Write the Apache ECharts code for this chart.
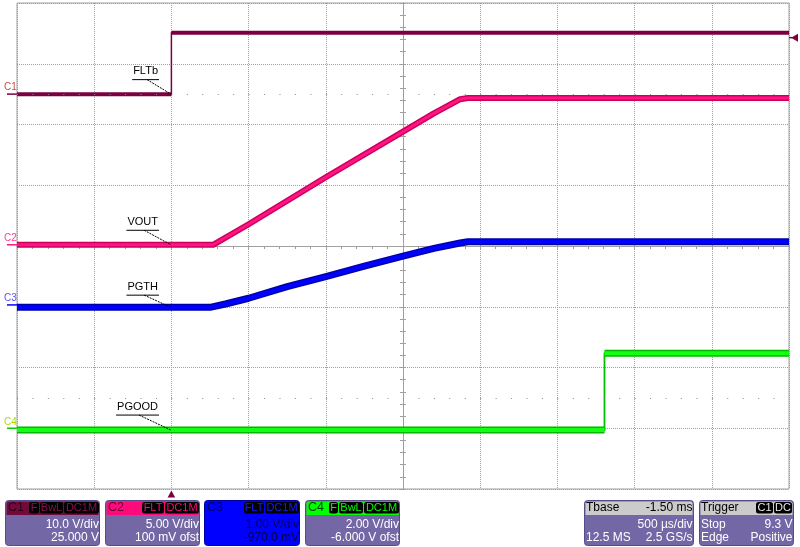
<!DOCTYPE html>
<html><head><meta charset="utf-8">
<script src="https://cdn.jsdelivr.net/npm/echarts@6/dist/echarts.min.js"></script>
<style>html,body{margin:0;padding:0;background:#fff}#c{width:800px;height:547px}</style>
</head><body><div id="c"></div><script>
// ---------- data (time in ms relative to trigger, levels in volts) ----------
const fltbT  = [-1.0, 0, 0, 4.0];
const fltbV  = [0, 0, 10.1, 10.1];
const voutT  = [-1.0, 0.27, 0.5, 1.0, 1.5, 1.7, 1.87, 1.92, 4.0];
const voutV  = [0, 0, 1.69, 5.56, 9.31, 10.82, 11.98, 12.08, 12.08];
const pgthT  = [-1.0, 0.25, 0.35, 0.5, 0.75, 1.0, 1.25, 1.5, 1.7, 1.87, 1.92, 4.0];
const pgthV  = [-0.04, -0.04, 0.015, 0.11, 0.30, 0.465, 0.64, 0.805, 0.93, 1.02, 1.04, 1.04];
const pgoodT = [-1.0, 2.805, 2.805, 4.0];
const pgoodV = [-0.06, -0.06, 2.47, 2.47];

const chNames   = ['C1', 'C2', 'C3', 'C4'];
const vPerDiv   = [10, 5, 1, 2];
const offsetV   = [25, 0.1, -0.97, -6];
const traceLabels = ['FLTb', 'VOUT', 'PGTH', 'PGOOD'];
const vdivText  = ['10.0 V/div', '5.00 V/div', '1.00 V/div', '2.00 V/div'];
const ofstText  = ['25.000 V', '100 mV ofst', '-970.0 mV', '-6.000 V ofst'];
const badgeText = [['F', 'BwL', 'DC1M'], ['FLT', 'DC1M'], ['FLT', 'DC1M'], ['F', 'BwL', 'DC1M']];
const tbaseText = ['Tbase', '-1.50 ms', '500 µs/div', '12.5 MS', '2.5 GS/s'];
const trigText  = ['Trigger', 'C1', 'DC', 'Stop', '9.3 V', 'Edge', 'Positive'];
const trigLevelV = 9.3;
const trigTimeMs = 0;
const xMin = -1.0, xMax = 4.0, xStep = 0.5;
const yMin = -4, yMax = 4, yStep = 1;

// ---------- helpers ----------
const FONT = '"Liberation Sans", Arial, sans-serif';
const gnd = ch => offsetV[ch] / vPerDiv[ch];
const toDiv = (ts, vs, ch) => ts.map((t, i) => [t, vs[i] / vPerDiv[ch] + gnd(ch)]);
const broken = pts => { const o = []; pts.forEach((p, i) => { if (i > 0 && p[0] === pts[i-1][0]) o.push([p[0], '-']); o.push(p); }); return o; };

const traces = [toDiv(fltbT, fltbV, 0), toDiv(voutT, voutV, 1), toDiv(pgthT, pgthV, 2), toDiv(pgoodT, pgoodV, 3)];

function ln(data, color, width, z) {
  return { type: 'line', data, xAxisIndex: 0, yAxisIndex: 0, showSymbol: false, symbol: 'none', silent: true,
    animation: false, z, lineStyle: { color, width, cap: 'butt', join: 'round' } };
}

const gridCol = '#a0a0a0';
function xAx(inside, split) {
  return { type: 'value', min: xMin, max: xMax, interval: xStep, position: inside ? 'top' : 'bottom',
    axisLine: { show: true, onZero: true, lineStyle: { color: gridCol, width: 1 } },
    axisTick: { show: true, inside, length: 3, lineStyle: { color: gridCol } },
    minorTick: { show: true, splitNumber: 5, length: 3, lineStyle: { color: gridCol } },
    axisLabel: { show: false },
    splitLine: { show: split, lineStyle: { color: gridCol, type: [1, 1], width: 1 } } };
}
function yAx(inside, split) {
  return { type: 'value', min: yMin, max: yMax, interval: yStep, position: 'left', offset: -386,
    axisLine: { show: true, onZero: false, lineStyle: { color: gridCol, width: 1 } },
    axisTick: { show: true, inside, length: 3, lineStyle: { color: gridCol } },
    minorTick: { show: true, splitNumber: 5, length: 3, lineStyle: { color: gridCol } },
    axisLabel: { show: false },
    splitLine: { show: split, lineStyle: { color: gridCol, type: [1, 1], width: 1 } } };
}

const chart = echarts.init(document.getElementById('c'), null, { renderer: 'canvas', width: 800, height: 547 });
chart.setOption({
  backgroundColor: '#ffffff',
  animation: false,
  grid: { left: 17, top: 3, width: 772, height: 486, show: true, borderColor: '#a0a0a0', borderWidth: 1, outerBoundsMode: 'none', containLabel: false },
  xAxis: [xAx(false, true), xAx(true, false)],
  yAxis: [yAx(false, true), yAx(true, false)],
  series: [
    Object.assign(ln(traces[0], 'rgba(0,0,0,0)', 1, 1), { markLine: { silent: true, symbol: 'none', animation: false,
      label: { show: false }, lineStyle: { color: '#8a8a8a', type: [1, 14.44], width: 1 }, data: [{ yAxis: 2.5 }, { yAxis: -2.5 }] } }),
    ln(broken(traces[0]), '#7a0040', 4, 3),
    ln(traces[0], '#7a0040', 1.5, 3),
    ln(traces[1], '#cc005c', 6, 4),
    ln(traces[1], '#ff1482', 3, 5),
    ln(traces[2], '#0000a8', 7, 4),
    ln(traces[2], '#0000ff', 4, 5),
    ln(broken(traces[3]), '#00b800', 7, 4),
    ln(broken(traces[3]), '#14ff14', 4, 5),
    ln(traces[3], '#00c000', 1.8, 4)
  ]
});

// ---------- overlay graphics ----------
const G = [];
const px = (t, d) => chart.convertToPixel({ gridIndex: 0 }, [t, d]);
function rect(x, y, w, h, fill, stroke, r, z) {
  G.push({ type: 'rect', silent: true, z: z || 100, shape: { x, y, width: w, height: h, r: r || 0 },
    style: { fill, stroke: stroke || null, lineWidth: stroke ? 1 : 0 } });
}
function text(x, y, str, color, align, size, z) {
  G.push({ type: 'text', silent: true, z: z || 103, x, y,
    style: { text: str, fill: color, align: align || 'left', verticalAlign: 'middle', fontSize: size || 12, fontFamily: FONT } });
}
function line(x1, y1, x2, y2, color, w, dash, z) {
  G.push({ type: 'line', silent: true, z: z || 101, shape: { x1, y1, x2, y2 },
    style: { stroke: color, lineWidth: w || 1, lineDash: dash || null } });
}
function poly(points, fill, z) { G.push({ type: 'polygon', silent: true, z: z || 101, shape: { points }, style: { fill } }); }

const ctx = document.createElement('canvas').getContext('2d');
function tw(str, size) { ctx.font = size + 'px ' + FONT; return ctx.measureText(str).width; }

// channel ground markers on the left
const markerTextCol = ['#cc4a4a', '#ff3d8f', '#5a50ff', '#a8dc00'];
const markerLineCol = ['#7a0040', '#ff1482', '#0000ff', '#00d000'];
for (let ch = 0; ch < 4; ch++) {
  const y = px(0, gnd(ch))[1];
  text(4, y - 6.5, chNames[ch], markerTextCol[ch], 'left', 10);
  line(7, y, 17, y, markerLineCol[ch], 1.5);
}

// trace name labels with leader lines to the trigger time
const rise = [15, 15, 12.7, 15.5];
const levelAtTrig = [traces[0][0][1], traces[1][0][1], traces[2][0][1], traces[3][0][1]];
for (let i = 0; i < 4; i++) {
  const [ax, ay] = px(trigTimeMs, levelAtTrig[i]);
  const w = tw(traceLabels[i], 11);
  const right = ax - 13.4, left = right - w;
  const uy = ay - rise[i];
  text(right, uy - 8, traceLabels[i], '#000', 'right', 11);
  line(left - 1, uy + 0.5, right + 1, uy + 0.5, '#000', 1);
  line((left + right) / 2 + 1.5, uy + 0.5, ax - 0.5, ay, '#000', 1, [2, 1]);
}

// trigger level marker (right) and trigger position marker (bottom)
const tl = px(xMax, trigLevelV / vPerDiv[0] + gnd(0));
line(789, tl[1], 792, tl[1], '#7a0040', 1.5);
poly([[791, tl[1]], [798, tl[1] - 4], [798, tl[1] + 4]], '#7a0040');
const tp = px(trigTimeMs, yMin);
poly([[tp[0], tp[1] + 1.5], [tp[0] - 3.8, tp[1] + 8.5], [tp[0] + 3.8, tp[1] + 8.5]], '#7a0040');

// bottom info panels
const PY = 500, PH = 46, HY = 507.5, L1 = 524.5, L2 = 538;
const lav = '#7367a5', lavBorder = '#554c88';
function panel(x1, x2, headFill, bodyFill, border) {
  rect(x1 + 0.5, PY + 0.5, x2 - x1 - 1, PH - 1, bodyFill, border, 3, 100);
  rect(x1 + 1.5, PY + 1.5, x2 - x1 - 3, 13.5, headFill, null, [2, 2, 0, 0], 101);
}
function badge(x1, x2, str, col) {
  rect(x1, 502, x2 - x1, 11.5, '#000', null, 2.5, 102);
  text((x1 + x2) / 2, 508, str, col, 'center', 11, 104);
}
const chPanelX = [[5, 100], [105, 200], [204, 300], [305, 400]];
const headCol = ['#720a3c', '#ff0a7c', '#0000ff', '#00ff00'];
const headTxt = ['#2e0016', '#6a0030', '#000066', '#004800'];
const bodyCol = [lav, lav, '#0000ff', lav];
const bodyTxt = ['#ffffff', '#ffffff', '#00004a', '#ffffff'];
const badgeCol = ['#8a1050', '#ff0a7c', '#1a1aff', '#00ff00'];
const badgeX = [[[29, 39], [40, 63], [64, 99]], [[142, 164], [165, 199]], [[244, 264], [265, 299]], [[329, 338], [339, 363], [364, 399]]];
for (let ch = 0; ch < 4; ch++) {
  const [x1, x2] = chPanelX[ch];
  panel(x1, x2, headCol[ch], bodyCol[ch], ch === 2 ? '#0000a0' : lavBorder);
  text(x1 + 3, HY, chNames[ch], headTxt[ch], 'left', 12.5);
  badgeText[ch].forEach((b, k) => badge(badgeX[ch][k][0], badgeX[ch][k][1], b, badgeCol[ch]));
  text(x2 - 1, L1, vdivText[ch], bodyTxt[ch], 'right', 12);
  text(x2 - 1, L2, ofstText[ch], bodyTxt[ch], 'right', 12);
}
// Tbase
panel(584, 694, '#cbcbcb', lav, lavBorder);
text(586, HY, tbaseText[0], '#000', 'left', 12);
text(692.5, HY, tbaseText[1], '#000', 'right', 12);
text(692.5, L1, tbaseText[2], '#fff', 'right', 12);
text(586, L2, tbaseText[3], '#fff', 'left', 12);
text(692.5, L2, tbaseText[4], '#fff', 'right', 12);
// Trigger
panel(699, 794, '#cbcbcb', lav, lavBorder);
text(701, HY, trigText[0], '#000', 'left', 12);
badge(756, 773, trigText[1], '#e8e8e8');
badge(774, 792, trigText[2], '#e8e8e8');
text(701, L1, trigText[3], '#fff', 'left', 12);
text(792.5, L1, trigText[4], '#fff', 'right', 12);
text(701, L2, trigText[5], '#fff', 'left', 12);
text(792.5, L2, trigText[6], '#fff', 'right', 12);

chart.setOption({ graphic: { elements: G } });
</script></body></html>
